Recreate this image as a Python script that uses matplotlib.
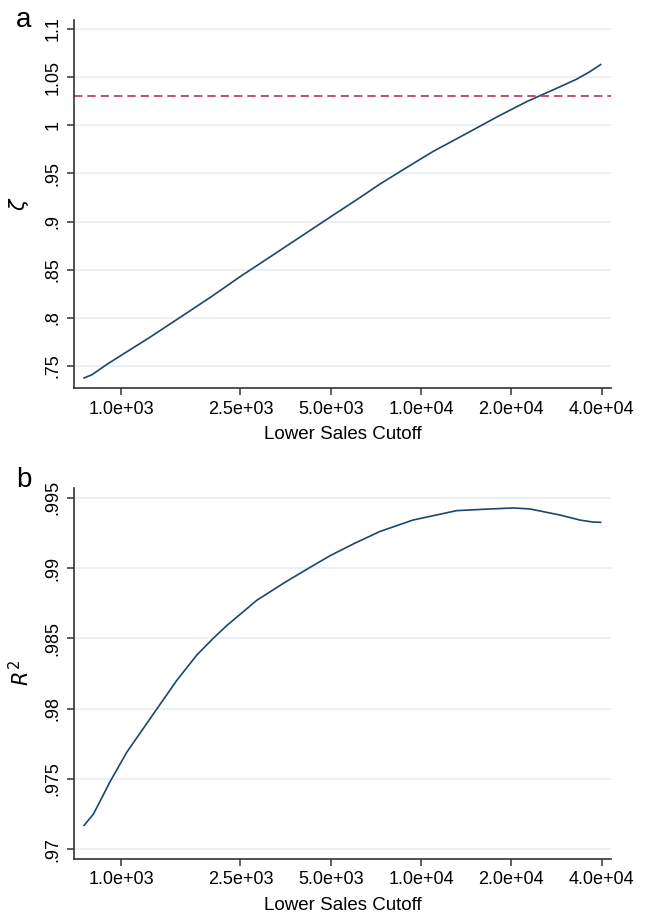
import matplotlib
matplotlib.use("Agg")
import matplotlib.pyplot as plt
import numpy as np

plt.rcParams['font.family'] = ['Liberation Sans', 'DejaVu Sans']

# Panel a: zeta vs lower sales cutoff
cutoff_a = [753, 800, 900, 1000, 1250, 1600, 2000, 2500, 3200, 4000, 5000, 6300,
            7300, 9000, 11000, 14000, 18000, 22500, 28000, 33000, 36500, 39700]
zeta = [0.7376, 0.7410, 0.7520, 0.7610, 0.7800, 0.8020, 0.8220, 0.8430, 0.8650,
        0.8850, 0.9050, 0.9255, 0.9390, 0.9565, 0.9730, 0.9905, 1.0090, 1.0245,
        1.0377, 1.0478, 1.0555, 1.0630]
zeta_ref = 1.03

# Panel b: R^2 vs lower sales cutoff
cutoff_b = [753, 809, 919, 1045, 1187, 1349, 1533, 1787, 2029, 2250, 2833, 3500,
            4270, 5000, 6000, 7300, 9400, 13150, 17000, 20300, 23070, 29050,
            33870, 37400, 39700]
r2 = [0.9717, 0.9725, 0.9748, 0.9769, 0.9786, 0.9803, 0.9820, 0.9838, 0.9850,
      0.9859, 0.9877, 0.98895, 0.99005, 0.9909, 0.99175, 0.9926, 0.99341, 0.99408,
      0.99420, 0.99427, 0.99420, 0.99377, 0.99341, 0.99327, 0.99325]

xticks = [1000, 2500, 5000, 10000, 20000, 40000]
xticklabels = ["1.0e+03", "2.5e+03", "5.0e+03", "1.0e+04", "2.0e+04", "4.0e+04"]
yticks_a = [0.75, 0.8, 0.85, 0.9, 0.95, 1.0, 1.05, 1.1]
yticklabels_a = [".75", ".8", ".85", ".9", ".95", "1", "1.05", "1.1"]
yticks_b = [0.97, 0.975, 0.98, 0.985, 0.99, 0.995]
yticklabels_b = [".97", ".975", ".98", ".985", ".99", ".995"]

W, H = 651, 918
fig = plt.figure(figsize=(W / 100, H / 100), dpi=100)

line_col = '#1a476f'
ref_col = '#b5354f'
grid_col = '#e8eff1'
spine_col = '#333333'

def make_ax(top, bottom):
    ax = fig.add_axes([74 / W, (H - bottom) / H, (611 - 74) / W, (bottom - top) / H])
    ax.set_xscale('log')
    ax.set_xlim(697, 43000)
    for s in ['top', 'right']:
        ax.spines[s].set_visible(False)
    for s in ['left', 'bottom']:
        ax.spines[s].set_color(spine_col)
        ax.spines[s].set_linewidth(1.2)
    ax.set_xticks(xticks)
    ax.set_xticklabels(xticklabels)
    ax.xaxis.set_minor_locator(matplotlib.ticker.NullLocator())
    ax.tick_params(axis='both', labelsize=13, length=5, width=1.1, color=spine_col, pad=4)
    ax.grid(axis='y', color=grid_col, linewidth=1.2)
    ax.set_axisbelow(True)
    ax.set_xlabel("Lower Sales Cutoff", fontsize=13.5, labelpad=6)
    return ax

ax1 = make_ax(20, 388)
ax1.plot(cutoff_a, zeta, color=line_col, linewidth=1.2)
ax1.axhline(zeta_ref, color=ref_col, linestyle=(0, (5, 3)), linewidth=1.2)
ax1.set_ylim(0.7272, 1.1093)
ax1.set_yticks(yticks_a)
ax1.set_yticklabels(yticklabels_a, rotation=90, va='center')
ax1.set_ylabel(r"$\zeta$", fontsize=15, labelpad=10)

ax2 = make_ax(488, 859)
ax2.plot(cutoff_b, r2, color=line_col, linewidth=1.2)
ax2.set_ylim(0.96931, 0.99569)
ax2.set_yticks(yticks_b)
ax2.set_yticklabels(yticklabels_b, rotation=90, va='center')
ax2.set_ylabel(r"$R^2$", fontsize=15, labelpad=8)

fig.text(24 / W, 1 - 20 / H, "a", fontsize=20, ha='center', va='center')
fig.text(24 / W, 1 - 480 / H, "b", fontsize=20, ha='center', va='center')

fig.savefig("out.png", dpi=100)
